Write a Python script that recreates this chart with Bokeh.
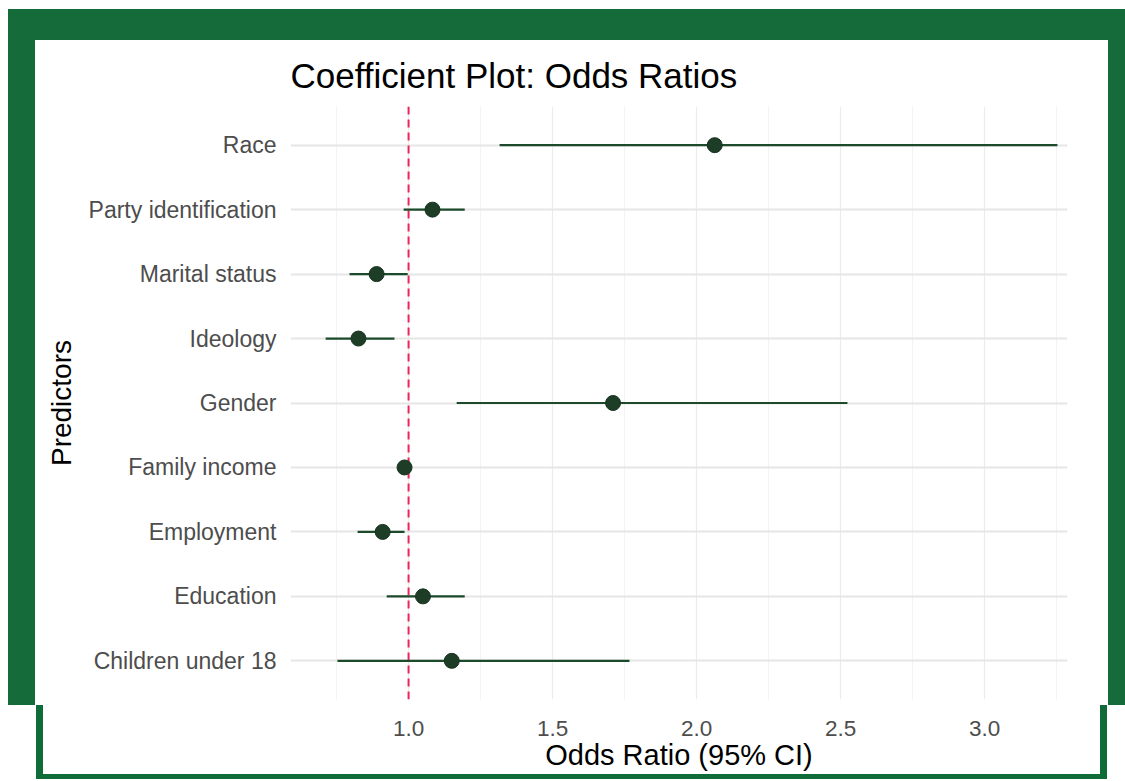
from bokeh.plotting import figure
from bokeh.models import FactorRange, Range1d, FixedTicker, Span
from bokeh.embed import file_html
from bokeh.resources import INLINE

# ---- data ----
predictors = ["Children under 18", "Education", "Employment", "Family income",
              "Gender", "Ideology", "Marital status", "Party identification", "Race"]
odds_ratio = [1.15, 1.05, 0.91, 0.986, 1.71, 0.826, 0.889, 1.083, 2.063]
ci_lower = [0.753, 0.924, 0.823, 0.978, 1.167, 0.712, 0.795, 0.983, 1.316]
ci_upper = [1.767, 1.195, 0.986, 0.994, 2.524, 0.951, 0.997, 1.195, 3.253]
x_ticks = [1.0, 1.5, 2.0, 2.5, 3.0]
x_minor = [0.75, 1.25, 1.75, 2.25, 2.75, 3.25]
x_tick_labels = ["1.0", "1.5", "2.0", "2.5", "3.0"]

FONT = "Liberation Sans"
W, H = 1125, 781

p = figure(width=W, height=H,
           x_range=Range1d(0.59, 3.288),
           y_range=FactorRange(factors=predictors, range_padding=0.1,
                               range_padding_units="absolute"),
           output_backend="svg", toolbar_location=None,
           min_border_left=290, min_border_right=58,
           min_border_top=106, min_border_bottom=82,
           title="Coefficient Plot: Odds Ratios")

p.border_fill_color = None
p.background_fill_color = "white"
p.outline_line_color = None

# frame decoration via CSS backgrounds
g = "linear-gradient(#166b3b,#166b3b)"
t = "linear-gradient(#0f6b37,#0f6b37)"
layers = [
    f"{g} 8px 9px / 1117px 31px no-repeat",
    f"{g} 8px 9px / 27px 696px no-repeat",
    f"{g} 1108px 9px / 17px 696px no-repeat",
    f"{t} 36px 705px / 7px 74px no-repeat",
    f"{t} 1100px 705px / 7px 74px no-repeat",
    f"{t} 36px 774px / 1071px 5px no-repeat",
    "#ffffff",
]
p.styles = {"background": ", ".join(layers)}

# title
p.title.text_font = FONT
p.title.text_font_size = "35px"
p.title.text_font_style = "normal"
p.title.text_color = "black"
p.title.align = "left"
p.title.standoff = 24

# grids
p.xaxis.ticker = FixedTicker(ticks=x_ticks, minor_ticks=x_minor)
p.xaxis.major_label_overrides = {v: s for v, s in zip(x_ticks, x_tick_labels)}
p.xgrid.grid_line_color = "#ececec"
p.xgrid.grid_line_width = 1.2
p.xgrid.minor_grid_line_color = "#f3f3f3"
p.xgrid.minor_grid_line_width = 1
p.ygrid.grid_line_color = "#e6e6e6"
p.ygrid.grid_line_width = 2

# axes
for ax in (p.xaxis, p.yaxis):
    ax.axis_line_color = None
    ax.major_tick_line_color = None
    ax.minor_tick_line_color = None
    ax.major_tick_out = 0
    ax.major_tick_in = 0
    ax.minor_tick_out = 0
    ax.minor_tick_in = 0
    ax.major_label_text_font = FONT
    ax.major_label_text_font_size = "23px"
    ax.major_label_text_color = "#4d4d4d"
    ax.axis_label_text_font = FONT
    ax.axis_label_text_font_size = "29px"
    ax.axis_label_text_font_style = "normal"
    ax.axis_label_text_color = "black"

p.xaxis.major_label_text_font_size = "22.5px"
p.xaxis.axis_label = "Odds Ratio (95% CI)"
p.yaxis.axis_label = "Predictors"
p.yaxis.axis_label_text_font_size = "28px"
p.xaxis.major_label_standoff = 21
p.xaxis.axis_label_standoff = 0
p.yaxis.major_label_standoff = 14
p.yaxis.axis_label_standoff = 9

# reference line
p.add_layout(Span(location=1.0, dimension="height", line_color="#e8265a",
                  line_width=2, line_dash="8 5", level="underlay"))

# CI segments and points
p.segment(x0=ci_lower, y0=predictors, x1=ci_upper, y1=predictors,
          line_color="#1d4a2b", line_width=2.2)
p.scatter(x=odds_ratio, y=predictors, size=15, fill_color="#1d3d26",
          line_color="#173520", line_width=1)

open("out.html", "w").write(file_html(p, INLINE))
